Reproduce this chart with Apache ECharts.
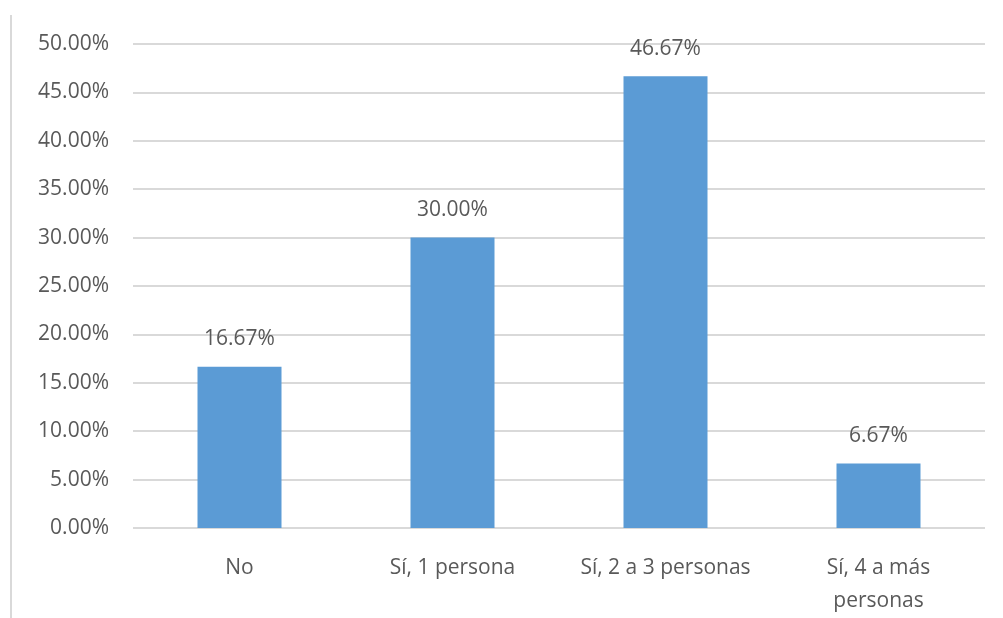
<!DOCTYPE html>
<html>
<head>
<meta charset="utf-8">
<script src="https://cdn.jsdelivr.net/npm/echarts@6/dist/echarts.min.js"></script>
<style>
  html, body { margin: 0; padding: 0; background: #fff; }
  #chart { width: 1003px; height: 618px; }
</style>
</head>
<body>
<div id="chart"></div>
<script>
// categorías y valores (%)
var categories = ['No', 'Sí, 1 persona', 'Sí, 2 a 3 personas', 'Sí, 4 a más personas'];
var values = [16.67, 30.00, 46.67, 6.67];

var myChart = echarts.init(document.getElementById('chart'));
var textColor = '#595959';
var font = '"Open Sans", "Noto Sans", sans-serif';

var option = {
  animation: false,
  color: ['#5b9bd5'],
  grid: { left: 133, right: 18, top: 44, bottom: 87 },
  graphic: [{
    type: 'line',
    shape: { x1: 11, y1: 15, x2: 11, y2: 618 },
    style: { stroke: '#d9d9d9', lineWidth: 2 }
  }],
  xAxis: {
    type: 'category',
    data: categories,
    axisLine: { show: false },
    axisTick: { show: false },
    axisLabel: {
      interval: 0,
      margin: 24,
      color: textColor,
      fontFamily: font,
      fontSize: 21,
      lineHeight: 33,
      formatter: function (v) {
        // la última etiqueta se parte en dos líneas
        return v.length > 18 ? v.replace(' personas', '\npersonas') : v;
      }
    }
  },
  yAxis: {
    type: 'value',
    min: 0,
    max: 50,
    interval: 5,
    axisLine: { show: false },
    axisTick: { show: false },
    splitLine: { lineStyle: { color: '#d9d9d9', width: 2 } },
    axisLabel: {
      margin: 24,
      color: textColor,
      fontFamily: font,
      fontSize: 21,
      formatter: function (v) { return v.toFixed(2) + '%'; }
    }
  },
  series: [{
    type: 'bar',
    barWidth: 84,
    data: values,
    label: {
      show: true,
      position: 'top',
      distance: 17,
      color: textColor,
      fontFamily: font,
      fontSize: 21,
      formatter: function (p) { return p.value.toFixed(2) + '%'; }
    }
  }]
};
myChart.setOption(option);
</script>
</body>
</html>
